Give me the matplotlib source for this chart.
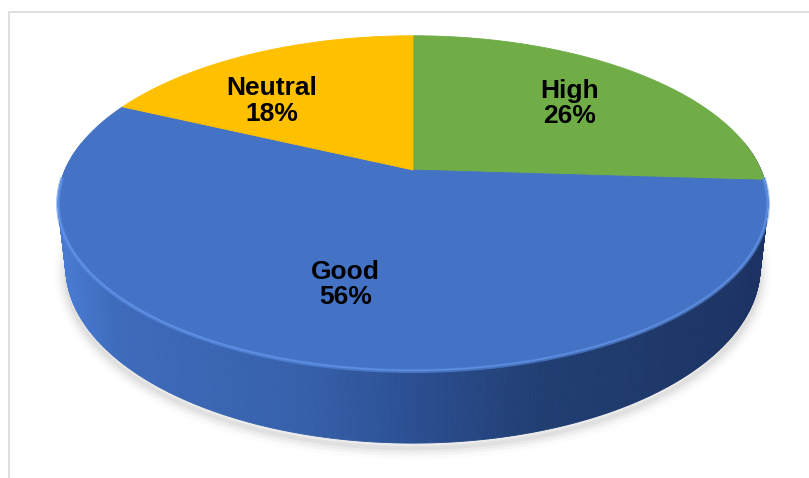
import numpy as np
import matplotlib.pyplot as plt
from matplotlib.colors import LinearSegmentedColormap

# slice data, clockwise from 12 o'clock
categories = ['High', 'Good', 'Neutral']
values = [26, 56, 18]
colors = ['#70AD47', '#4472C4', '#FFC000']

W, H = 809, 478

# perspective settings for the 3d disc
elev = np.radians(27.5)
dist = 4.506
focal = 1568.0
depth = 0.209
cx, cy = 413.0, 170.0


def project(theta, r=1.0, z=0.0):
    # theta in degrees, disc of radius 1, z = 0 is the top face
    t = np.radians(theta)
    X = r * np.cos(t)
    Y = r * np.sin(t)
    s, c = np.sin(elev), np.cos(elev)
    yc = Y * s + z * c
    zc = Y * c - z * s + dist
    return cx + focal * X / zc, cy - focal * yc / zc


fig = plt.figure(figsize=(W / 100, H / 100), dpi=100)
ax = fig.add_axes([0, 0, 1, 1])
ax.set_xlim(0, W)
ax.set_ylim(H, 0)
ax.axis('off')

# chart area border (top and left only)
ax.plot([9.5, 9.5, W], [H, 11.5, 11.5], color='#D9D9D9', lw=1.2, zorder=1)

# soft shadow under the disc
th = np.linspace(170, 370, 300)
bx, by = project(th, 1.0, -depth)
for lw, a in [(16, 0.03), (11, 0.05), (7, 0.07), (3, 0.1)]:
    ax.plot(bx, by + 5, color='#808080', lw=lw, alpha=a,
            solid_capstyle='round', zorder=2)

# side wall, shaded left to right
side_cmap = LinearSegmentedColormap.from_list(
    'side', [(0.0, '#4A7DD6'), (0.08, '#3D6BBB'), (0.35, '#3660AA'),
             (0.5, '#2B4F92'), (0.68, '#213E72'), (1.0, '#1B3262')])
th = np.linspace(170, 370, 400)
tx, ty = project(th, 1.0, 0.0)
bx, by = project(th, 1.0, -depth)
for i in range(len(th) - 1):
    xs = [tx[i], tx[i + 1], bx[i + 1], bx[i]]
    ys = [ty[i], ty[i + 1], by[i + 1], by[i]]
    f = (np.mean(xs) - 58) / (768 - 58)
    ax.fill(xs, ys, color=side_cmap(np.clip(f, 0, 1)), lw=0.6,
            ec=side_cmap(np.clip(f, 0, 1)), zorder=3)

# top face slices
start = 90.0
mids = []
for v, col in zip(values, colors):
    span = 360.0 * v / sum(values)
    arc = np.linspace(start, start - span, 200)
    ax_, ay_ = project(arc)
    xs = np.concatenate([[cx], ax_])
    ys = np.concatenate([[cy], ay_])
    ax.fill(xs, ys, color=col, lw=0.6, ec=col, zorder=4)
    mids.append(start - span / 2)
    start -= span

# light bevel along the front rim
th = np.linspace(183, 357, 300)
rx, ry = project(th)
ax.plot(rx, ry + 1, color='#5B8FE6', lw=2.8, alpha=0.6, zorder=5)
ax.plot(rx, ry + 0.5, color='#6A9BEE', lw=1.0, alpha=0.6, zorder=5)

# data labels
label_r = 0.68
nudge = {'Neutral': (-27, 14), 'Good': (0, -7), 'High': (-1, 2)}
for cat, v, m in zip(categories, values, mids):
    lx, ly = project(m, label_r)
    dx, dy = nudge.get(cat, (0, 0))
    ax.text(lx + dx, ly + dy, f'{cat}\n{v}%', ha='center', va='center',
            fontsize=19, fontweight='bold', family='Liberation Sans',
            linespacing=1.08, color='black', zorder=6)

fig.savefig('out.png', dpi=100)
